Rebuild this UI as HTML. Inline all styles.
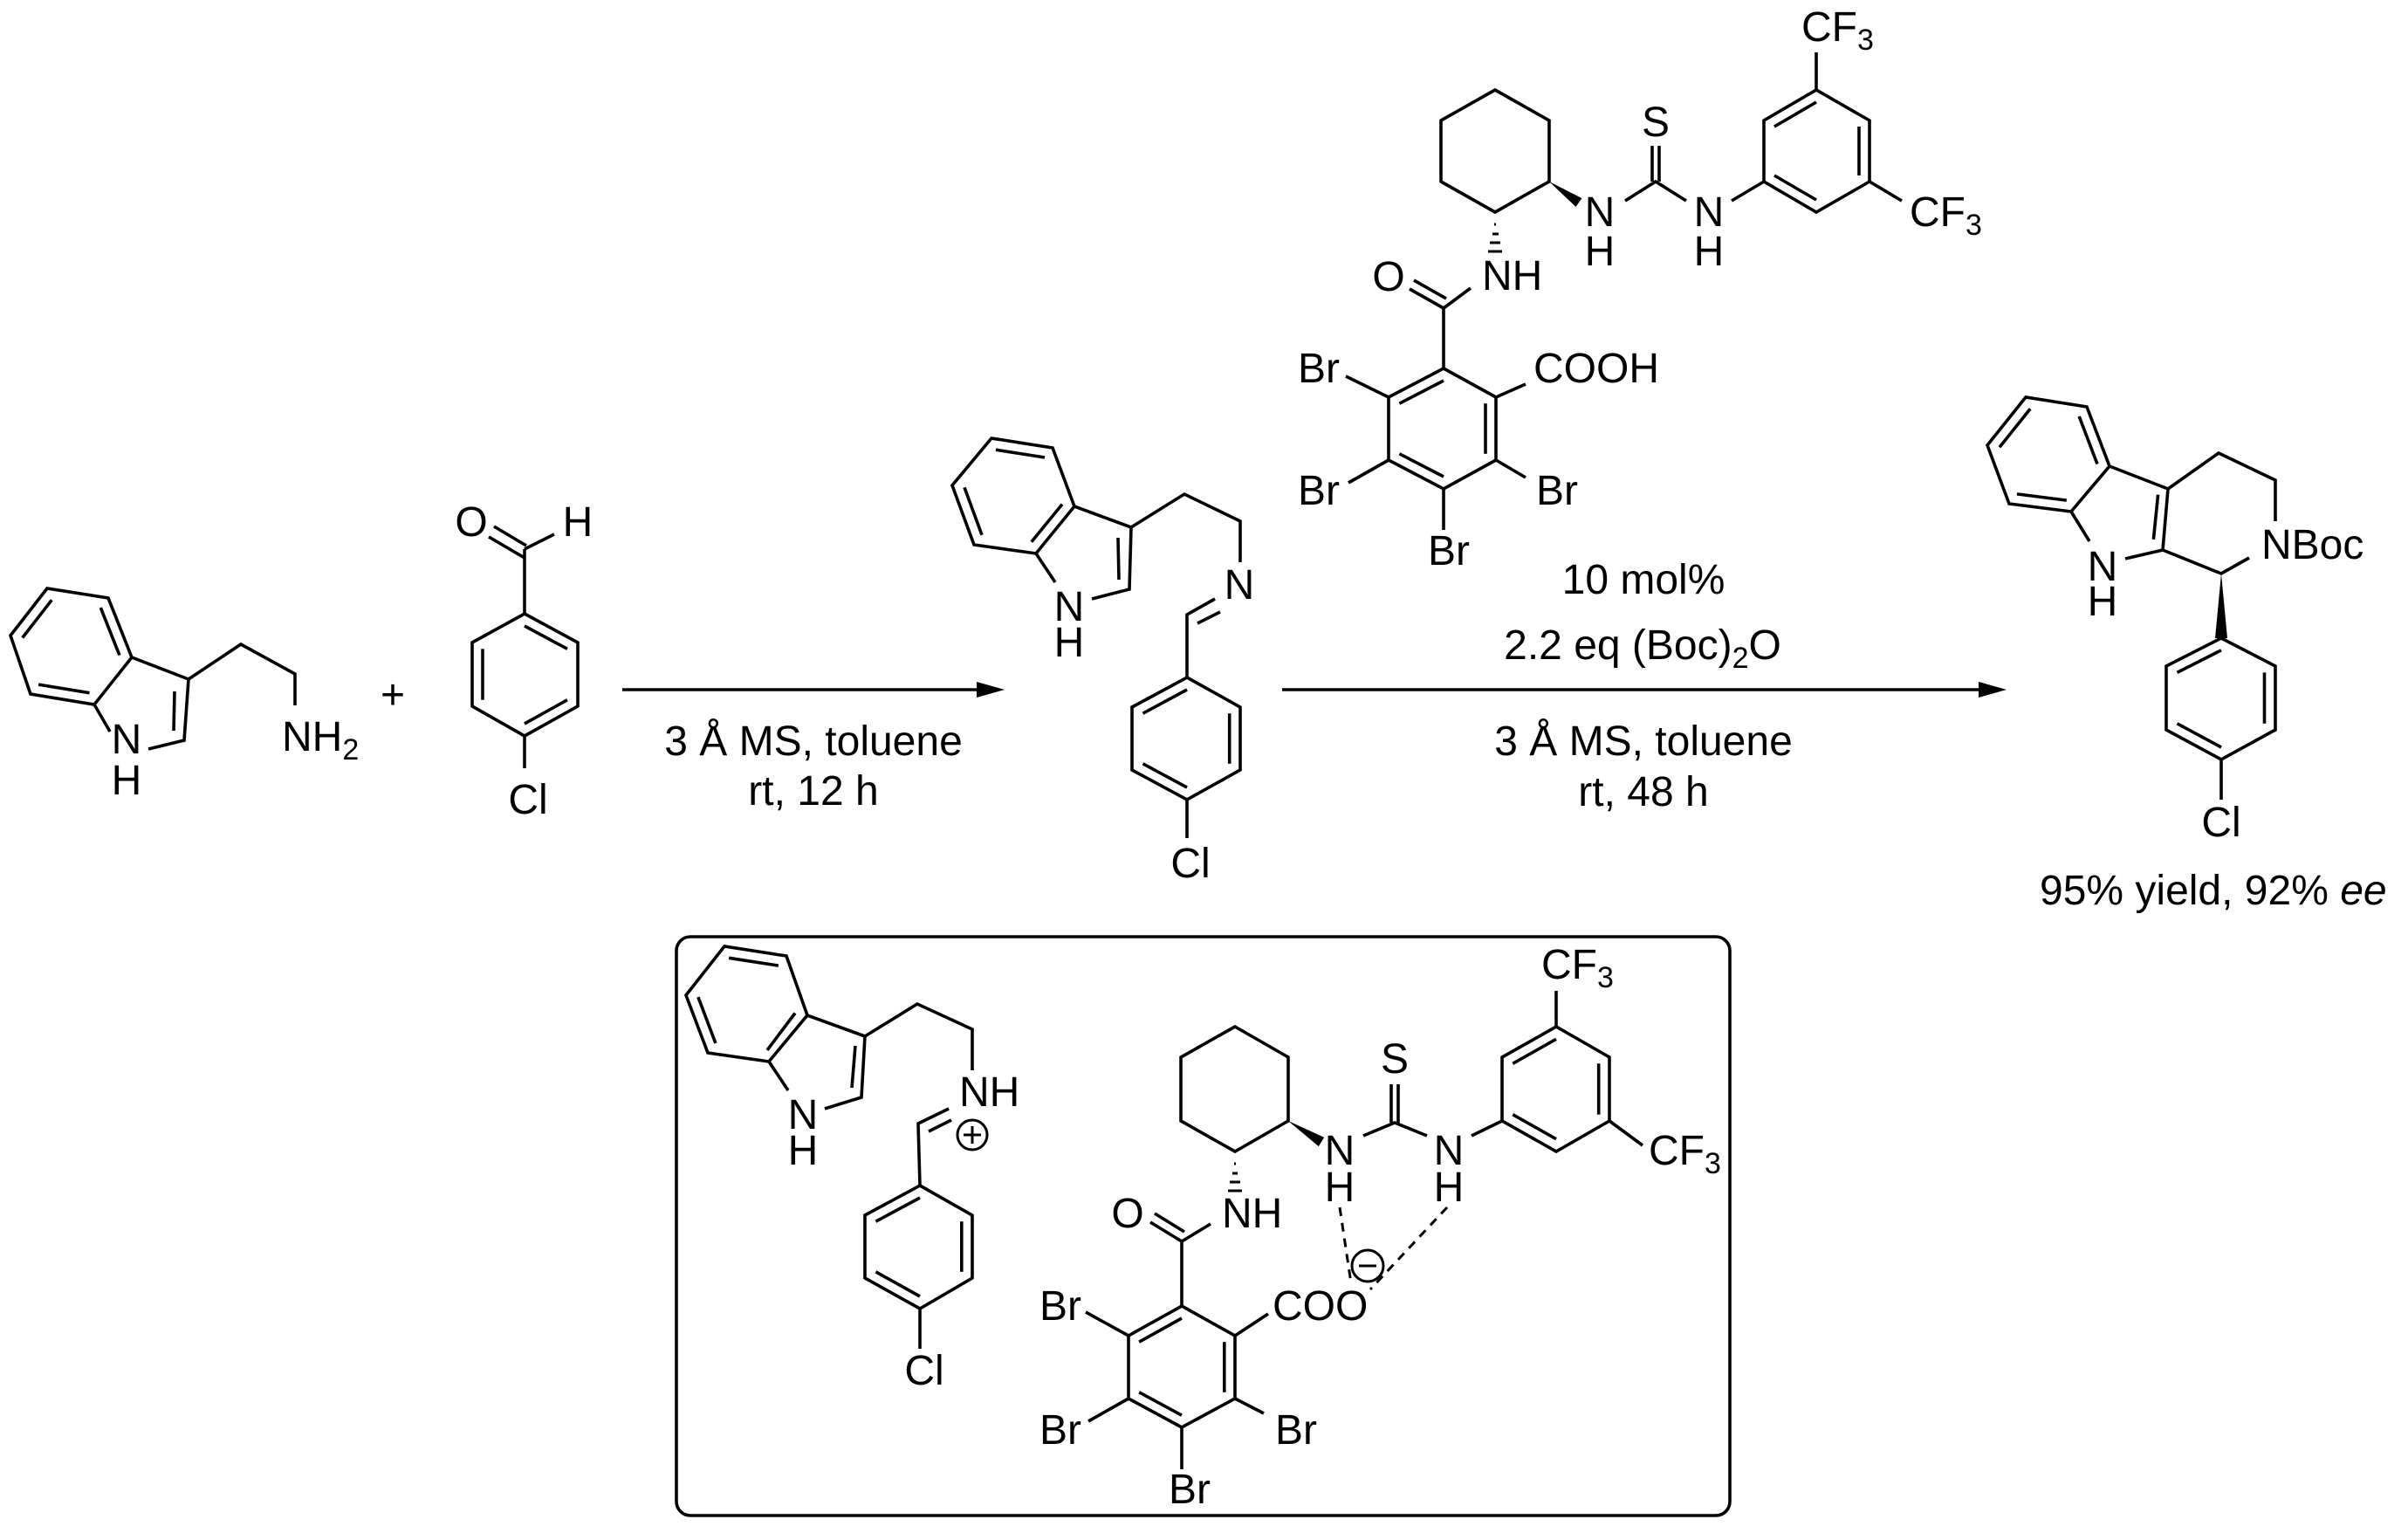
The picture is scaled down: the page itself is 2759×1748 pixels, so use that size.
<!DOCTYPE html>
<html><head><meta charset="utf-8"><style>
html,body{margin:0;padding:0;background:#fff;}
svg{display:block;}
text{font-family:"Liberation Sans",Arial,sans-serif;font-size:48px;fill:#000;}
</style></head><body>
<svg width="2759" height="1748" viewBox="0 0 2759 1748" xmlns="http://www.w3.org/2000/svg">
<g stroke="#000" stroke-width="3.6" fill="none" stroke-linecap="butt" stroke-linejoin="miter">
<!-- Tryptamine -->
<polyline points="151,753 124,685 54,674 12,728 35,795 108,807 151,753 216,778"/>
<line x1="25.7" y1="730.5" x2="59.3" y2="687.3"/>
<line x1="115.3" y1="696.1" x2="136.9" y2="750.5"/>
<line x1="102.5" y1="793.7" x2="44.1" y2="784.1"/>
<line x1="108" y1="807" x2="126" y2="838"/>
<polyline points="170,858 211,848 216,778 276,738 338,772 338,808"/>
<line x1="200" y1="792" x2="199" y2="837"/>
<!-- Aldehyde -->
<polygon points="601,703 662,736 662,809 601,843 541,809 541,736"/>
<line x1="601" y1="717" x2="650" y2="743.3"/>
<line x1="553" y1="743.3" x2="553" y2="801.7"/>
<line x1="650" y1="801.7" x2="601" y2="829"/>
<line x1="601" y1="703" x2="601" y2="629"/>
<line x1="601" y1="639" x2="560" y2="615"/>
<line x1="603" y1="625" x2="566" y2="603"/>
<line x1="601" y1="629" x2="635" y2="612"/>
<line x1="601" y1="843" x2="601" y2="880"/>
<!-- Arrow 1 -->
<line x1="713" y1="790" x2="1122" y2="790"/>
<!-- Imine -->
<polyline points="1231,580 1206,513 1136,502 1091,556 1116,624 1187,634 1231,580 1296,604"/>
<line x1="1141" y1="515.2" x2="1197" y2="524"/>
<line x1="1217" y1="577.6" x2="1181.8" y2="620.8"/>
<line x1="1125" y1="612.8" x2="1105" y2="558.4"/>
<line x1="1187" y1="634" x2="1209" y2="667"/>
<polyline points="1251,686 1294,675 1296,604 1357,566 1421,597 1421,644"/>
<line x1="1281" y1="616" x2="1282" y2="664"/>
<polyline points="1392,686 1360,704 1360,776"/>
<line x1="1372" y1="714" x2="1398" y2="701"/>
<polygon points="1360,776 1421,810 1421,882 1360,916 1297,882 1297,810"/>
<line x1="1360" y1="790" x2="1309.5" y2="817.2"/>
<line x1="1408.7" y1="817.2" x2="1408.7" y2="874.8"/>
<line x1="1360" y1="902" x2="1309.5" y2="874.8"/>
<line x1="1360" y1="916" x2="1360" y2="960"/>
<!-- Catalyst top -->
<polygon points="1713,103 1775,138 1775,208 1713,243 1651,208 1651,138"/>
<polyline points="1862,230 1897,208 1932,230"/>
<line x1="1893" y1="167" x2="1893" y2="208"/>
<line x1="1901" y1="167" x2="1901" y2="208"/>
<line x1="1984" y1="230" x2="2021" y2="208"/>
<polygon points="2021,208 2021,138 2081,103 2142,138 2142,208 2081,243"/>
<line x1="2033" y1="145" x2="2081" y2="117"/>
<line x1="2130" y1="145" x2="2130" y2="201"/>
<line x1="2081" y1="229" x2="2033" y2="201"/>
<line x1="2081" y1="103" x2="2081" y2="60"/>
<line x1="2142" y1="208" x2="2179" y2="230"/>
<line x1="1685" y1="330" x2="1654" y2="353"/>
<line x1="1654" y1="353" x2="1615" y2="331"/>
<line x1="1657" y1="342" x2="1620" y2="321"/>
<line x1="1654" y1="353" x2="1654" y2="422"/>
<polygon points="1654,422 1714,455 1714,527 1654,560 1591,527 1591,455"/>
<line x1="1654" y1="436" x2="1603.4" y2="462.2"/>
<line x1="1702" y1="462.2" x2="1702" y2="519.8"/>
<line x1="1654" y1="546" x2="1603.4" y2="519.8"/>
<line x1="1591" y1="455" x2="1542" y2="431"/>
<line x1="1714" y1="455" x2="1748" y2="440"/>
<line x1="1591" y1="527" x2="1545" y2="553"/>
<line x1="1714" y1="527" x2="1748" y2="547"/>
<line x1="1654" y1="560" x2="1654" y2="607"/>
<g stroke-width="3">
<line x1="1712" y1="257" x2="1714" y2="257"/>
<line x1="1710" y1="268" x2="1717" y2="268"/>
<line x1="1707" y1="278" x2="1719" y2="278"/>
<line x1="1705" y1="288" x2="1721" y2="288"/>
</g>
<!-- Arrow 2 -->
<line x1="1469" y1="790" x2="2270" y2="790"/>
<!-- Product -->
<polyline points="2417,534 2391,466 2321,455 2277,510 2302,577 2373,586 2417,534 2484,560"/>
<line x1="2291" y1="512.3" x2="2326.2" y2="468.3"/>
<line x1="2382.2" y1="477" x2="2403" y2="531.5"/>
<line x1="2367.8" y1="573.1" x2="2311" y2="565.9"/>
<line x1="2373" y1="586" x2="2394" y2="620"/>
<polyline points="2435,640 2478,630 2484,560 2542,519 2607,550 2607,597"/>
<line x1="2472.6" y1="566.7" x2="2467.4" y2="617.8"/>
<polyline points="2478,630 2545,657 2577,639"/>
<polygon points="2545,731 2607,763 2607,836 2545,870 2482,836 2482,763"/>
<line x1="2545" y1="744.8" x2="2494.5" y2="770.4"/>
<line x1="2594.5" y1="770.4" x2="2594.5" y2="828.8"/>
<line x1="2545" y1="856" x2="2494.5" y2="828.8"/>
<line x1="2545" y1="870" x2="2545" y2="916"/>
<!-- Box -->
<rect x="775" y="1073" width="1207" height="663" rx="16" ry="16"/>
<!-- Box left -->
<polyline points="925,1163 901,1095 830,1084 786,1140 811,1206 881,1216 925,1163 991,1187"/>
<line x1="835.1" y1="1097.3" x2="891.9" y2="1106.1"/>
<line x1="911" y1="1160.5" x2="879" y2="1202.9"/>
<line x1="819.9" y1="1195" x2="799.9" y2="1142.1"/>
<line x1="881" y1="1216" x2="903" y2="1249"/>
<polyline points="945,1270 987,1257 991,1187 1051,1150 1114,1179 1114,1226"/>
<line x1="980" y1="1198" x2="976" y2="1246"/>
<polyline points="1087,1270 1052,1287 1054,1358"/>
<line x1="1064" y1="1296" x2="1090" y2="1283"/>
<polygon points="1054,1358 1114,1392 1114,1464 1054,1499 991,1464 991,1392"/>
<line x1="1054" y1="1372" x2="1003.4" y2="1399.2"/>
<line x1="1101.8" y1="1399.2" x2="1101.8" y2="1456.8"/>
<line x1="1054" y1="1485" x2="1003.4" y2="1456.8"/>
<line x1="1054" y1="1499" x2="1054" y2="1545"/>
<circle cx="1114" cy="1300" r="17" stroke-width="3"/>
<line x1="1104" y1="1300" x2="1124" y2="1300" stroke-width="3"/>
<line x1="1114" y1="1290" x2="1114" y2="1310" stroke-width="3"/>
<!-- Box right -->
<polygon points="1415,1176 1476,1211 1476,1284 1415,1319 1353,1284 1353,1211"/>
<polyline points="1562,1301 1598,1286 1635,1301"/>
<line x1="1594" y1="1242" x2="1594" y2="1286"/>
<line x1="1602" y1="1242" x2="1602" y2="1286"/>
<line x1="1686" y1="1301" x2="1721" y2="1284"/>
<polygon points="1721,1284 1721,1211 1783,1176 1844,1211 1844,1284 1783,1319"/>
<line x1="1733.3" y1="1218.3" x2="1783" y2="1190.3"/>
<line x1="1831.7" y1="1218.3" x2="1831.7" y2="1276.7"/>
<line x1="1783" y1="1304.7" x2="1733.3" y2="1276.7"/>
<line x1="1783" y1="1176" x2="1783" y2="1135"/>
<line x1="1844" y1="1284" x2="1882" y2="1312"/>
<g stroke-width="3">
<line x1="1414" y1="1333" x2="1416" y2="1333"/>
<line x1="1412" y1="1344" x2="1418" y2="1344"/>
<line x1="1409" y1="1354" x2="1421" y2="1354"/>
<line x1="1407" y1="1364" x2="1423" y2="1364"/>
</g>
<line x1="1387" y1="1402" x2="1354" y2="1422"/>
<line x1="1354" y1="1422" x2="1318" y2="1400"/>
<line x1="1357" y1="1411" x2="1323" y2="1390"/>
<line x1="1354" y1="1422" x2="1354" y2="1496"/>
<polygon points="1354,1496 1415,1530 1415,1602 1354,1635 1293,1602 1293,1530"/>
<line x1="1354" y1="1510" x2="1305.2" y2="1537.2"/>
<line x1="1402.8" y1="1537.2" x2="1402.8" y2="1594.8"/>
<line x1="1354" y1="1621.2" x2="1305.2" y2="1594.8"/>
<line x1="1293" y1="1530" x2="1244" y2="1503"/>
<line x1="1415" y1="1530" x2="1453" y2="1505"/>
<line x1="1293" y1="1602" x2="1247" y2="1628"/>
<line x1="1415" y1="1602" x2="1448" y2="1619"/>
<line x1="1354" y1="1635" x2="1354" y2="1683"/>
<g stroke-width="3" stroke-dasharray="10,8">
<line x1="1535" y1="1383" x2="1548" y2="1470"/>
<line x1="1658" y1="1383" x2="1570" y2="1477"/>
</g>
<circle cx="1567" cy="1450" r="18" stroke-width="3"/>
<line x1="1557" y1="1450" x2="1577" y2="1450" stroke-width="3"/>
</g>
<g fill="#000" stroke="none">
<polygon points="1151,790 1119,781 1119,799"/>
<polygon points="2299,790 2267,781 2267,799"/>
<polygon points="1775,208 1812.5,227.1 1805.5,236.9"/>
<polygon points="2545,657 2538,731 2552,731"/>
<polygon points="1476,1284 1517.2,1302.9 1510.8,1313.1"/>
</g>
<!-- Text -->
<g>
<text x="145" y="863" text-anchor="middle">N</text>
<text x="145" y="910" text-anchor="middle">H</text>
<text x="323" y="860">NH<tspan font-size="34" dy="10">2</tspan></text>
<text x="450" y="812" text-anchor="middle">+</text>
<text x="540" y="614" text-anchor="middle">O</text>
<text x="662" y="614" text-anchor="middle">H</text>
<text x="605" y="932" text-anchor="middle">Cl</text>
<text x="932" y="865" text-anchor="middle">3 Å MS, toluene</text>
<text x="932" y="922" text-anchor="middle">rt, 12 h</text>

<text x="1225" y="711" text-anchor="middle">N</text>
<text x="1225" y="752" text-anchor="middle">H</text>
<text x="1420" y="686" text-anchor="middle">N</text>
<text x="1364" y="1005" text-anchor="middle">Cl</text>

<text x="1897" y="156" text-anchor="middle">S</text>
<text x="1833" y="259" text-anchor="middle">N</text>
<text x="1833" y="304" text-anchor="middle">H</text>
<text x="1958" y="259" text-anchor="middle">N</text>
<text x="1958" y="304" text-anchor="middle">H</text>
<text x="2064" y="47">CF<tspan font-size="34" dy="10">3</tspan></text>
<text x="2188" y="259">CF<tspan font-size="34" dy="10">3</tspan></text>
<text x="1698" y="332">NH</text>
<text x="1591" y="333" text-anchor="middle">O</text>
<text x="1487" y="438">Br</text>
<text x="1757" y="438">COOH</text>
<text x="1487" y="578">Br</text>
<text x="1760" y="578">Br</text>
<text x="1636" y="647">Br</text>
<text x="1883" y="680" text-anchor="middle">10 mol%</text>
<text x="1882" y="755" text-anchor="middle">2.2 eq (Boc)<tspan font-size="34" dy="10">2</tspan><tspan dy="-10">O</tspan></text>
<text x="1883" y="865" text-anchor="middle">3 Å MS, toluene</text>
<text x="1883" y="923" text-anchor="middle">rt, 48 h</text>

<text x="2409" y="665" text-anchor="middle">N</text>
<text x="2409" y="705" text-anchor="middle">H</text>
<text x="2591" y="640">NBoc</text>
<text x="2545" y="958" text-anchor="middle">Cl</text>
<text x="2337" y="1036">95% yield, 92% <tspan font-style="italic">ee</tspan></text>

<text x="920" y="1293" text-anchor="middle">N</text>
<text x="920" y="1334" text-anchor="middle">H</text>
<text x="1099" y="1267">NH</text>
<text x="1059" y="1586" text-anchor="middle">Cl</text>

<text x="1598" y="1229" text-anchor="middle">S</text>
<text x="1535" y="1334" text-anchor="middle">N</text>
<text x="1535" y="1376" text-anchor="middle">H</text>
<text x="1660" y="1334" text-anchor="middle">N</text>
<text x="1660" y="1376" text-anchor="middle">H</text>
<text x="1766" y="1121">CF<tspan font-size="34" dy="10">3</tspan></text>
<text x="1889" y="1334">CF<tspan font-size="34" dy="10">3</tspan></text>
<text x="1400" y="1406">NH</text>
<text x="1292" y="1406" text-anchor="middle">O</text>
<text x="1191" y="1512">Br</text>
<text x="1458" y="1512">COO</text>
<text x="1191" y="1654">Br</text>
<text x="1461" y="1654">Br</text>
<text x="1339" y="1722">Br</text>
</g>
</svg>
</body></html>
